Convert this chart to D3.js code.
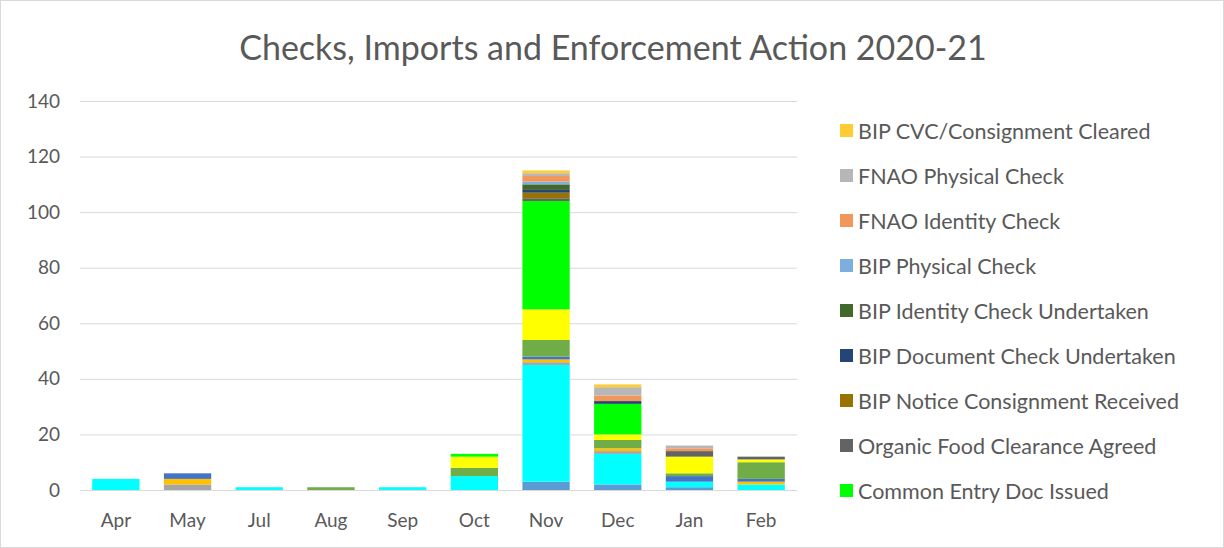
<!DOCTYPE html>
<html>
<head>
<meta charset="utf-8">
<script src="https://cdn.jsdelivr.net/npm/d3@7"></script>
<style>
  html, body { margin: 0; padding: 0; background: #fff; }
  #chart { width: 1224px; height: 548px; }
  text { font-family: Lato, "Open Sans", sans-serif; fill: #595959; }
</style>
</head>
<body>
<div id="chart"></div>
<script>
// Months on the x axis
const months = ["Apr", "May", "Jul", "Aug", "Sep", "Oct", "Nov", "Dec", "Jan", "Feb"];

// Series names, bottom of the stack first
const seriesNames = [
    "Series 1", "Series 2", "Series 3", "Series 4", "Series 5", "Series 6", "Series 7",
    "Common Entry Doc Issued",
    "Organic Food Clearance Agreed",
    "BIP Notice Consignment Received",
    "BIP Document Check Undertaken",
    "BIP Identity Check Undertaken",
    "BIP Physical Check",
    "FNAO Identity Check",
    "FNAO Physical Check",
    "BIP CVC/Consignment Cleared"
];
const seriesColors = [
    "#5B9BD5", "#00FFFF", "#A5A5A5", "#FFC000", "#4472C4", "#70AD47", "#FFFF00",
    "#00FF00", "#636363", "#997300", "#264478", "#43682B", "#7CAFDD", "#F1975A",
    "#B7B7B7", "#FFCD33"
];

// Values per series, one per month
const series1 = [0, 0, 0, 0, 0, 0, 3, 2, 1, 0];
const series2 = [4, 0, 1, 0, 1, 5, 42, 11, 2, 2];
const series3 = [0, 2, 0, 0, 0, 0, 1, 1, 0, 0];
const series4 = [0, 2, 0, 0, 0, 0, 1, 1, 0, 1];
const series5 = [0, 2, 0, 0, 0, 0, 1, 0, 2, 1];
const series6 = [0, 0, 0, 1, 0, 3, 6, 3, 1, 6];
const series7 = [0, 0, 0, 0, 0, 4, 11, 2, 6, 1];
const commonEntryDoc = [0, 0, 0, 0, 0, 1, 39, 11, 0, 0];
const organicClearance = [0, 0, 0, 0, 0, 0, 1, 0, 2, 1];
const bipNotice = [0, 0, 0, 0, 0, 0, 2, 0, 0, 0];
const bipDocument = [0, 0, 0, 0, 0, 0, 1, 1, 0, 0];
const bipIdentity = [0, 0, 0, 0, 0, 0, 2, 0, 0, 0];
const bipPhysical = [0, 0, 0, 0, 0, 0, 1, 0, 0, 0];
const fnaoIdentity = [0, 0, 0, 0, 0, 0, 2, 2, 1, 0];
const fnaoPhysical = [0, 0, 0, 0, 0, 0, 1, 3, 1, 0];
const bipCvc = [0, 0, 0, 0, 0, 0, 1, 1, 0, 0];

const yTicks = [0, 20, 40, 60, 80, 100, 120, 140];

const allSeries = [series1, series2, series3, series4, series5, series6, series7,
    commonEntryDoc, organicClearance, bipNotice, bipDocument, bipIdentity,
    bipPhysical, fnaoIdentity, fnaoPhysical, bipCvc];

// Table for d3.stack
const table = months.map((m, i) => {
    const row = { month: m };
    seriesNames.forEach((name, k) => { row[name] = allSeries[k][i]; });
    return row;
});

const width = 1224, height = 548;
const plot = { left: 80, right: 797, top: 101, bottom: 490 };

const svg = d3.select("#chart").append("svg")
    .attr("width", width)
    .attr("height", height);

// Chart frame
svg.append("rect")
    .attr("x", 0.5).attr("y", 0.5)
    .attr("width", width - 1).attr("height", height - 1)
    .attr("fill", "#fff")
    .attr("stroke", "#d9d9d9");

// Title
svg.append("text")
    .attr("x", 613)
    .attr("y", 60)
    .attr("text-anchor", "middle")
    .style("font-size", "34px")
    .text("Checks, Imports and Enforcement Action 2020-21");

const x = d3.scaleBand()
    .domain(months)
    .range([plot.left, plot.right])
    .paddingInner(0.34)
    .paddingOuter(0.17);

const y = d3.scaleLinear()
    .domain([0, 140])
    .range([plot.bottom, plot.top]);

// Gridlines
svg.append("g")
    .selectAll("line")
    .data(yTicks)
    .join("line")
    .attr("x1", plot.left)
    .attr("x2", plot.right)
    .attr("y1", d => y(d) + 0.5)
    .attr("y2", d => y(d) + 0.5)
    .attr("stroke", "#d9d9d9")
    .attr("stroke-width", 1);

// Y axis labels
const yAxis = svg.append("g")
    .attr("transform", `translate(${plot.left - 20},0)`)
    .call(d3.axisLeft(y).tickValues(yTicks).tickSize(0).tickPadding(0));
yAxis.select(".domain").remove();
yAxis.selectAll("text")
    .style("font-size", "19px")
    .style("font-family", "Lato, sans-serif")
    .attr("fill", "#595959");

// Stacked bars
const stack = d3.stack().keys(seriesNames);
const layers = stack(table);

svg.append("g")
    .selectAll("g")
    .data(layers)
    .join("g")
    .attr("fill", (d, i) => seriesColors[i])
    .selectAll("rect")
    .data(d => d.filter(p => p[1] > p[0]))
    .join("rect")
    .attr("x", d => x(d.data.month))
    .attr("y", d => y(d[1]))
    .attr("width", x.bandwidth())
    .attr("height", d => y(d[0]) - y(d[1]));

// X axis labels
const xAxis = svg.append("g")
    .attr("transform", `translate(0,${plot.bottom + 18})`)
    .call(d3.axisBottom(x).tickSize(0).tickPadding(6));
xAxis.select(".domain").remove();
xAxis.selectAll("text")
    .style("font-size", "19px")
    .style("font-family", "Lato, sans-serif")
    .attr("fill", "#595959");

// Legend (only the entries that fit are shown, top of stack first)
const legendItems = d3.range(seriesNames.length - 1, 6, -1);
const legend = svg.append("g")
    .selectAll("g")
    .data(legendItems)
    .join("g")
    .attr("transform", (d, i) => `translate(840,${131 + i * 45})`);

legend.append("rect")
    .attr("x", 0)
    .attr("y", -7)
    .attr("width", 13)
    .attr("height", 13)
    .attr("fill", d => seriesColors[d]);

legend.append("text")
    .attr("x", 18)
    .attr("y", 7.5)
    .style("font-size", "21.5px")
    .text(d => seriesNames[d]);
</script>
</body>
</html>
